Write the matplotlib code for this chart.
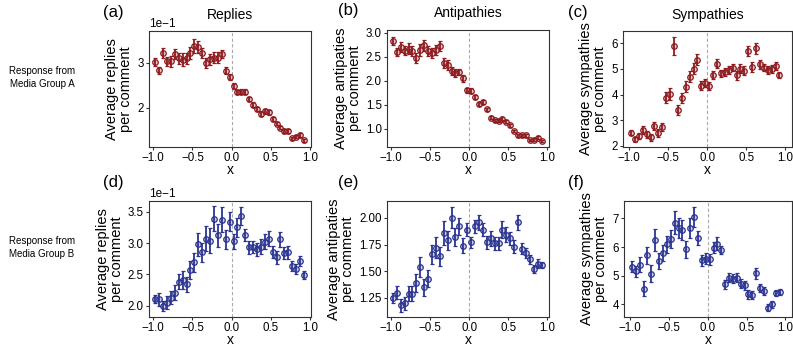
import numpy as np
import matplotlib
matplotlib.use("Agg")
import matplotlib.pyplot as plt

plt.rcParams['font.family'] = ['Liberation Sans', 'DejaVu Sans']

# bin centres (same for every panel)
x = [-0.975, -0.925, -0.875, -0.825, -0.775, -0.725, -0.675, -0.625, -0.575, -0.525,
     -0.475, -0.425, -0.375, -0.325, -0.275, -0.225, -0.175, -0.125, -0.075, -0.025,
     0.025, 0.075, 0.125, 0.175, 0.225, 0.275, 0.325, 0.375, 0.425, 0.475,
     0.525, 0.575, 0.625, 0.675, 0.725, 0.775, 0.825, 0.875, 0.925]

# --- Media group A ---
replies_a = [3.02, 2.84, 3.22, 3.04, 3.04, 3.20, 3.10, 3.07, 3.10, 3.22,
             3.38, 3.35, 3.22, 3.00, 3.08, 3.12, 3.12, 3.20, 2.83, 2.69,
             2.49, 2.35, 2.36, 2.36, 2.20, 2.07, 1.97, 1.87, 1.92, 1.90,
             1.75, 1.65, 1.56, 1.48, 1.48, 1.32, 1.36, 1.40, 1.28]
replies_a_err = [0.08, 0.08, 0.12, 0.10, 0.12, 0.12, 0.12, 0.14, 0.12, 0.14,
                 0.16, 0.14, 0.12, 0.12, 0.12, 0.12, 0.12, 0.08, 0.07, 0.07,
                 0.06, 0.05, 0.05, 0.06, 0.05, 0.05, 0.04, 0.05, 0.05, 0.05,
                 0.04, 0.04, 0.04, 0.04, 0.04, 0.04, 0.03, 0.04, 0.03]

antip_a = [2.83, 2.60, 2.70, 2.63, 2.67, 2.62, 2.48, 2.64, 2.74, 2.62,
           2.58, 2.64, 2.73, 2.37, 2.33, 2.20, 2.16, 2.18, 2.05, 1.80,
           1.79, 1.66, 1.51, 1.56, 1.40, 1.23, 1.17, 1.16, 1.21, 1.14,
           1.07, 0.95, 0.86, 0.86, 0.86, 0.76, 0.77, 0.81, 0.74]
antip_a_err = [0.08, 0.09, 0.10, 0.10, 0.11, 0.10, 0.10, 0.12, 0.12, 0.10,
               0.10, 0.10, 0.10, 0.10, 0.10, 0.08, 0.08, 0.07, 0.07, 0.05,
               0.05, 0.04, 0.04, 0.04, 0.04, 0.03, 0.03, 0.03, 0.04, 0.03,
               0.03, 0.03, 0.03, 0.03, 0.03, 0.03, 0.03, 0.03, 0.03]

symp_a = [2.52, 2.26, 2.38, 2.62, 2.45, 2.33, 2.78, 2.50, 2.75, 3.88,
          4.02, 5.88, 3.41, 3.87, 4.30, 4.70, 5.00, 5.35, 4.35, 4.45,
          4.33, 4.75, 5.20, 4.82, 4.87, 4.95, 5.05, 4.75, 5.00, 4.92,
          5.70, 5.08, 5.80, 5.18, 5.05, 4.95, 5.00, 5.12, 4.75]
symp_a_err = [0.10, 0.10, 0.12, 0.15, 0.15, 0.12, 0.15, 0.15, 0.15, 0.20,
              0.25, 0.35, 0.20, 0.20, 0.22, 0.22, 0.22, 0.22, 0.18, 0.15,
              0.15, 0.15, 0.18, 0.15, 0.15, 0.15, 0.15, 0.18, 0.18, 0.18,
              0.20, 0.20, 0.22, 0.18, 0.15, 0.15, 0.15, 0.15, 0.12]

# --- Media group B ---
replies_b = [2.11, 2.10, 1.99, 2.05, 2.13, 2.21, 2.38, 2.41, 2.34, 2.57,
             2.69, 2.98, 2.85, 3.07, 3.04, 3.39, 3.12, 3.37, 3.06, 3.34,
             3.03, 3.25, 3.43, 3.13, 2.93, 2.94, 2.90, 2.94, 3.02, 3.07,
             2.86, 2.77, 3.06, 2.84, 2.85, 2.63, 2.59, 2.71, 2.49]
replies_b_err = [0.06, 0.10, 0.08, 0.10, 0.10, 0.12, 0.12, 0.15, 0.12, 0.15,
                 0.15, 0.18, 0.15, 0.20, 0.20, 0.20, 0.18, 0.20, 0.15, 0.15,
                 0.12, 0.15, 0.15, 0.10, 0.10, 0.10, 0.10, 0.12, 0.12, 0.12,
                 0.10, 0.10, 0.12, 0.10, 0.10, 0.08, 0.08, 0.08, 0.06]

antip_b = [1.25, 1.30, 1.18, 1.20, 1.29, 1.29, 1.39, 1.54, 1.35, 1.43,
           1.66, 1.72, 1.64, 1.86, 1.79, 2.00, 1.82, 1.92, 1.74, 1.89,
           1.77, 1.92, 1.96, 1.89, 1.77, 1.81, 1.76, 1.76, 1.89, 1.84,
           1.81, 1.73, 1.96, 1.71, 1.67, 1.61, 1.52, 1.57, 1.56]
antip_b_err = [0.05, 0.06, 0.06, 0.06, 0.07, 0.07, 0.08, 0.09, 0.08, 0.08,
               0.09, 0.10, 0.09, 0.11, 0.09, 0.10, 0.08, 0.08, 0.07, 0.06,
               0.05, 0.06, 0.07, 0.06, 0.06, 0.07, 0.06, 0.06, 0.08, 0.07,
               0.06, 0.06, 0.07, 0.05, 0.05, 0.04, 0.04, 0.04, 0.03]

symp_b = [5.32, 5.15, 5.39, 4.55, 5.72, 5.07, 6.24, 5.52, 5.80, 6.10,
          6.28, 6.85, 6.68, 6.59, 5.92, 6.68, 7.04, 6.33, 5.54, 5.60,
          5.57, 5.98, 6.12, 5.90, 4.70, 4.93, 4.90, 4.93, 4.72, 4.67,
          4.35, 4.33, 5.08, 4.57, 4.47, 3.88, 4.00, 4.40, 4.43]
symp_b_err = [0.18, 0.20, 0.25, 0.25, 0.30, 0.30, 0.38, 0.28, 0.28, 0.30,
              0.32, 0.40, 0.35, 0.35, 0.30, 0.35, 0.35, 0.25, 0.20, 0.18,
              0.18, 0.20, 0.22, 0.15, 0.15, 0.15, 0.15, 0.15, 0.15, 0.15,
              0.15, 0.15, 0.18, 0.15, 0.15, 0.12, 0.12, 0.10, 0.10]

titles = ['Replies', 'Antipathies', 'Sympathies']
ylabels = ['Average replies\nper comment', 'Average antipaties\nper comment',
           'Average sympathies\nper comment']
row_labels = ['Response from\nMedia Group A', 'Response from\nMedia Group B']
panel_tags = ['(a)', '(b)', '(c)', '(d)', '(e)', '(f)']

RED = '#8e1b1f'
BLUE = '#2b3590'

fig = plt.figure(figsize=(7.93, 3.47), dpi=100)
W, H = 793, 347

# axes boxes in pixels: left, top, right, bottom
boxes = [
    (149, 31, 311, 147), (387, 30, 549, 147), (623, 31, 792, 147),
    (149, 201, 311, 317), (387, 201, 549, 317), (624, 201, 792, 317),
]
tag_x = [103, 338, 568]
xlims = [(-1.055, 1.015), (-1.05, 1.02), (-1.077, 1.085)] * 2
ylims = [(0.113, 0.371), (0.615, 3.06), (1.96, 6.47),
         (0.182, 0.367), (1.072, 2.157), (3.56, 7.61)]
yticks = [[0.2, 0.3], [1.0, 1.5, 2.0, 2.5, 3.0], [2, 3, 4, 5, 6],
          [0.20, 0.25, 0.30, 0.35], [1.25, 1.50, 1.75, 2.00], [4, 5, 6, 7]]

data = [
    (np.array(replies_a) * 0.1, np.array(replies_a_err) * 0.1, RED),
    (antip_a, antip_a_err, RED),
    (symp_a, symp_a_err, RED),
    (np.array(replies_b) * 0.1, np.array(replies_b_err) * 0.1, BLUE),
    (antip_b, antip_b_err, BLUE),
    (symp_b, symp_b_err, BLUE),
]

for i, (l, t, r, b) in enumerate(boxes):
    ax = fig.add_axes([l / W, 1 - b / H, (r - l) / W, (b - t) / H])
    y, err, col = data[i]
    ax.axvline(0, color='#aaaaaa', ls=(0, (3, 2)), lw=0.8, zorder=0)
    ax.errorbar(x, y, yerr=err, fmt='o', color=col, ecolor=col,
                mfc=matplotlib.colors.to_rgba(col, 0.25), mec=col,
                ms=4.0, mew=0.9, elinewidth=1.3, capsize=1.6, capthick=1.0)
    ax.set_xlim(*xlims[i])
    ax.set_ylim(*ylims[i])
    ax.set_xticks([-1.0, -0.5, 0.0, 0.5, 1.0])
    ax.set_yticks(yticks[i])
    if i % 3 == 0:
        ax.ticklabel_format(axis='y', style='sci', scilimits=(-1, -1))
        ax.yaxis.get_offset_text().set_fontsize(8.5)
    else:
        ax.yaxis.set_major_formatter(matplotlib.ticker.FormatStrFormatter(
            '%.2f' if i == 4 else ('%.1f' if i == 1 else '%d')))
    ax.tick_params(labelsize=8.3, length=2.5, width=0.8, color='#333333', pad=1.2)
    for s in ax.spines.values():
        s.set_linewidth(0.8)
        s.set_color('#333333')
    ax.set_xlabel('x', fontsize=10, va='baseline')
    ax.xaxis.set_label_coords(0.5, -27.5 / (b - t))
    ax.set_ylabel(ylabels[i % 3], fontsize=10.5, labelpad=3, linespacing=1.0)
    if i < 3:
        ax.set_title(titles[i], fontsize=10, pad=9)
    fig.text(tag_x[i % 3] / W, 1 - (t - 19) / H, panel_tags[i], fontsize=12,
             va='center', ha='left')

for k, lab in enumerate(row_labels):
    fig.text(42 / W, 1 - (77.5 + 170 * k) / H, lab, fontsize=7, ha='center',
             va='center', linespacing=1.3)

fig.savefig('out.png', dpi=100)
